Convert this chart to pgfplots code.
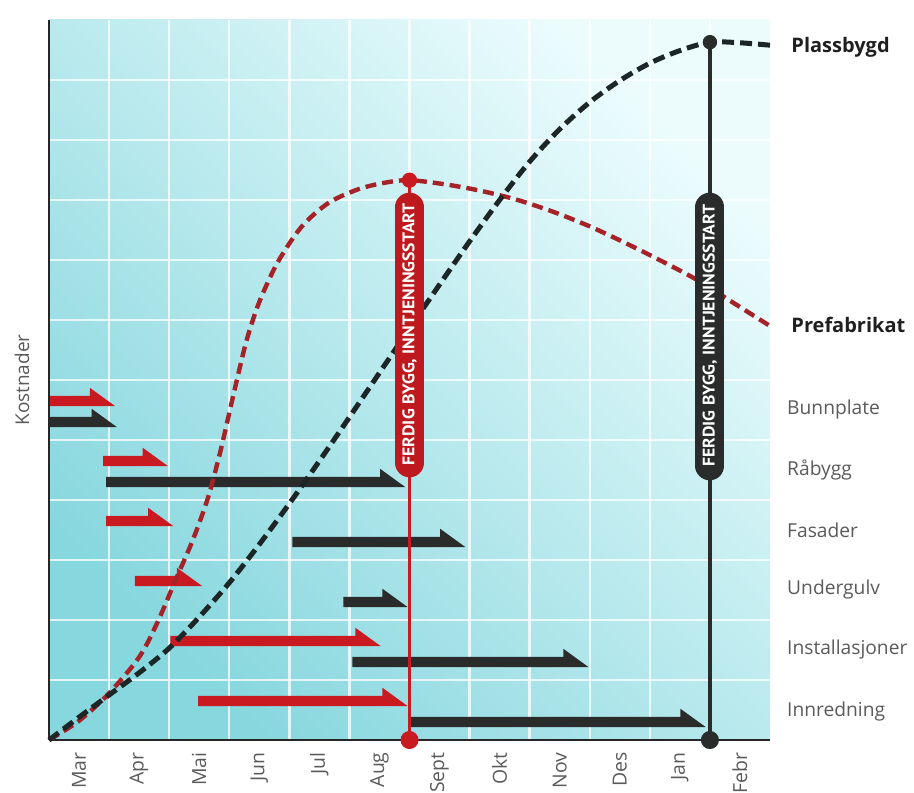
\documentclass[border=0pt]{standalone}
\usepackage{pgfplots}
\pgfplotsset{compat=1.18}
\usepackage{fontspec}
\setmainfont{Open Sans}
\newfontfamily\pillfont{PT Sans}
\usepackage{graphicx}
\definecolor{cyanD}{RGB}{135,215,222}
\definecolor{cyanL}{RGB}{236,252,253}
\definecolor{barred}{RGB}{200,26,32}
\definecolor{barblack}{RGB}{42,44,44}
\definecolor{curvered}{RGB}{165,34,40}
\definecolor{curveblack}{RGB}{28,38,38}
\definecolor{txtgray}{RGB}{90,90,90}

% arrow bar: start x, tip x, centre y, colour
\newcommand\harrow[4]{%
  \pgfmathsetmacro\ayb{#3-0.085}%
  \pgfmathsetmacro\ayt{#3+0.085}%
  \pgfmathsetmacro\ayh{#3+0.22}%
  \pgfmathsetmacro\axh{#2-0.42}%
  \edef\doarrow{\noexpand\addplot[fill=#4,draw=none,forget plot] coordinates {(#1,\ayb) (#2,\ayb) (\axh,\ayh) (\axh,\ayt) (#1,\ayt)} -- cycle;}%
  \doarrow}

\begin{document}
\begin{tikzpicture}
\begin{axis}[
  scale only axis, width=360.5pt, height=360pt,
  xmin=0, xmax=12, ymin=0, ymax=12,
  clip=false,
  axis lines*=left,
  axis line style={draw=black!85, line width=1pt},
  axis background/.style={top color=cyanD, bottom color=cyanL, shading angle=135},
  xtick={0.5,1.5,...,11.5},
  xticklabels={Mar,Apr,Mai,Jun,Jul,Aug,Sept,Okt,Nov,Des,Jan,Febr},
  minor xtick={1,2,...,11},
  ytick={1,2,...,11},
  yticklabels={},
  major tick length=0pt, minor tick length=0pt,
  xmajorgrids=false, xminorgrids=true, ymajorgrids=true,
  major grid style={white, opacity=0.75, line width=1.2pt},
  minor grid style={white, opacity=0.75, line width=1.2pt},
  xticklabel style={rotate=90, anchor=east, inner sep=0pt, xshift=-6pt, font=\fontsize{9.7}{11}\selectfont, text=txtgray},
  ylabel={Kostnader},
  ylabel style={at={(axis description cs:-0.0374,0.5)}, anchor=center, rotate=0, font=\fontsize{9.5}{11}\selectfont, text=txtgray},
]
% activity arrows (red = prefabrikat, black = plassbygd)
\harrow{0.02}{1.10}{5.65}{barred}
\harrow{0.02}{1.13}{5.30}{barblack}
\harrow{0.90}{1.98}{4.65}{barred}
\harrow{0.95}{5.93}{4.30}{barblack}
\harrow{0.95}{2.07}{3.65}{barred}
\harrow{4.05}{6.93}{3.30}{barblack}
\harrow{1.43}{2.55}{2.65}{barred}
\harrow{4.90}{5.97}{2.30}{barblack}
\harrow{2.02}{5.52}{1.65}{barred}
\harrow{5.05}{8.98}{1.30}{barblack}
\harrow{2.48}{5.97}{0.65}{barred}
\harrow{6.02}{10.93}{0.30}{barblack}

% cost curves
\addplot[curvered, line width=2.2pt, dash pattern=on 5.5pt off 3pt, smooth] coordinates {
(0,0) (0.5,0.32) (1,0.78) (1.5,1.38) (1.8,1.95) (2.1,2.65) (2.4,3.35) (2.65,4.05) (2.85,4.8) (3.0,5.45) (3.15,6.1) (3.3,6.7) (3.5,7.3) (3.8,7.95) (4.2,8.55) (4.65,8.95) (5.15,9.18) (5.6,9.29) (6,9.33) (6.6,9.26) (7.2,9.15) (7.8,9.0) (8.4,8.8) (9,8.56) (9.6,8.28) (10.2,7.98) (10.8,7.66) (11.4,7.28) (12,6.9)};
\addplot[curveblack, line width=2.5pt, dash pattern=on 6pt off 3pt, smooth] coordinates {
(0,0) (0.5,0.38) (1,0.75) (1.5,1.12) (2,1.53) (2.5,2.05) (3,2.62) (3.5,3.26) (4,3.94) (4.5,4.65) (5,5.38) (5.5,6.12) (6,6.86) (6.5,7.59) (7,8.31) (7.5,9.0) (8,9.64) (8.5,10.18) (9,10.63) (9.5,10.99) (10,11.28) (10.5,11.49) (11,11.63) (11.5,11.62) (12,11.58)};

% completion lines
\addplot[barred, line width=1.6pt] coordinates {(6,0) (6,9.33)};
\addplot[barblack, line width=1.6pt] coordinates {(11,0) (11,11.63)};
% pills
\addplot[barred!95!black, line width=14.5pt, line cap=round] coordinates {(6,4.62) (6,8.88)};
\addplot[barblack, line width=14.5pt, line cap=round] coordinates {(11,4.57) (11,8.88)};
\node[rotate=90, text=white, inner sep=0pt] at (axis cs:6,6.76) {\pillfont\bfseries\resizebox{131pt}{6pt}{FERDIG BYGG, INNTJENINGSSTART}};
\node[rotate=90, text=white, inner sep=0pt] at (axis cs:11,6.74) {\pillfont\bfseries\resizebox{131pt}{6pt}{FERDIG BYGG, INNTJENINGSSTART}};
% dots
\addplot[only marks, mark=*, mark size=4.3pt, barred] coordinates {(6,0)};
\addplot[only marks, mark=*, mark size=3.6pt, barred] coordinates {(6,9.33)};
\addplot[only marks, mark=*, mark size=4.3pt, barblack] coordinates {(11,0)};
\addplot[only marks, mark=*, mark size=3.4pt, barblack] coordinates {(11,11.63)};

% labels
\node[anchor=west, inner sep=0pt, font=\fontsize{10}{12}\selectfont\bfseries, text=black!88] at (axis cs:12.35,11.55) {Plassbygd};
\node[anchor=west, inner sep=0pt, font=\fontsize{10}{12}\selectfont\bfseries, text=black!88] at (axis cs:12.35,6.92) {Prefabrikat};
\node[anchor=west, inner sep=0pt, font=\fontsize{9.6}{11}\selectfont, text=txtgray] at (axis cs:12.28,5.5) {Bunnplate};
\node[anchor=west, inner sep=0pt, font=\fontsize{9.6}{11}\selectfont, text=txtgray] at (axis cs:12.28,4.5) {Råbygg};
\node[anchor=west, inner sep=0pt, font=\fontsize{9.6}{11}\selectfont, text=txtgray] at (axis cs:12.28,3.5) {Fasader};
\node[anchor=west, inner sep=0pt, font=\fontsize{9.6}{11}\selectfont, text=txtgray] at (axis cs:12.28,2.5) {Undergulv};
\node[anchor=west, inner sep=0pt, font=\fontsize{9.6}{11}\selectfont, text=txtgray] at (axis cs:12.28,1.5) {Installasjoner};
\node[anchor=west, inner sep=0pt, font=\fontsize{9.6}{11}\selectfont, text=txtgray] at (axis cs:12.28,0.47) {Innredning};
\end{axis}
\pgfresetboundingbox
\path[use as bounding box] (current axis.south west) ++(-24.5pt,-26pt) rectangle ++(457pt,396pt);
\end{tikzpicture}
\end{document}
